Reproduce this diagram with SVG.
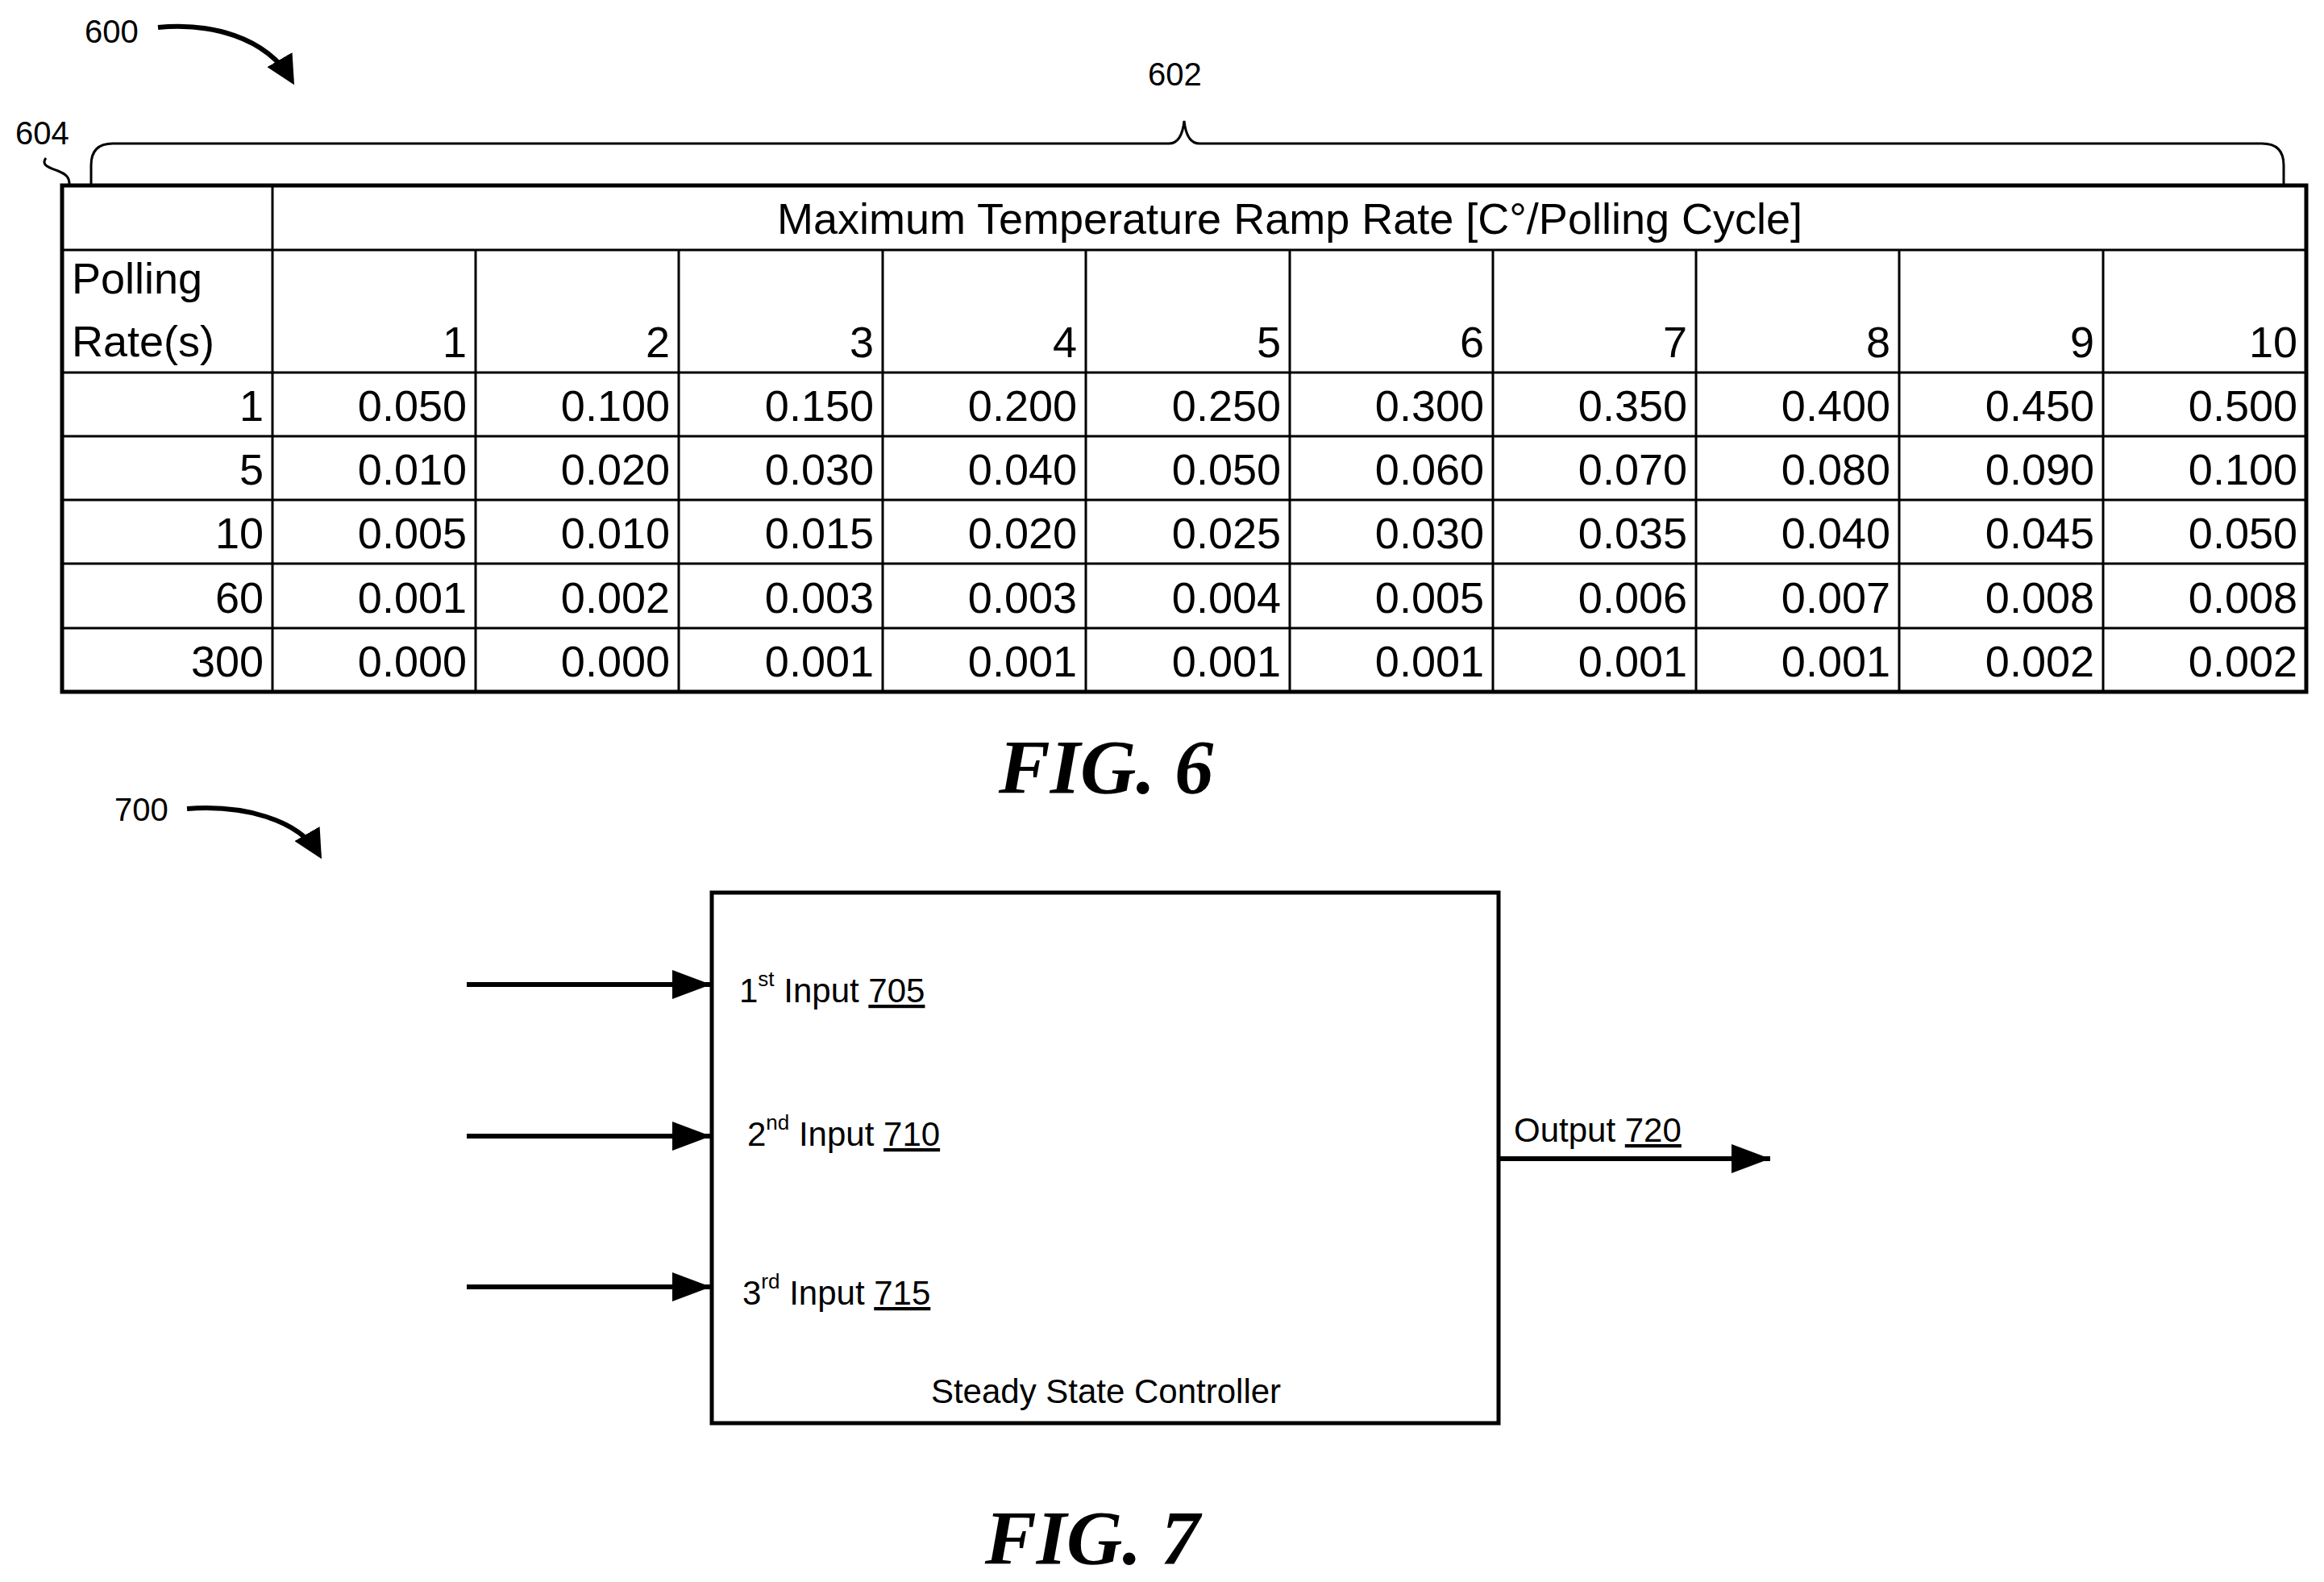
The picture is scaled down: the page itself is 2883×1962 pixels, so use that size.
<svg xmlns="http://www.w3.org/2000/svg" width="2883" height="1962" viewBox="0 0 2883 1962">
<style>
text{font-family:"Liberation Sans",Arial,sans-serif;fill:#000}
.d{font-size:54px;text-anchor:end}
.ref{font-size:40px}
.lbl{font-size:42px}
.fig{font-family:"Liberation Serif","Times New Roman",serif;font-size:96px;font-weight:bold;font-style:italic;text-anchor:middle}
.g{stroke:#000;stroke-width:3;fill:none}
.conn{stroke:#000;stroke-width:6;fill:none}
</style>
<defs>
<marker id="ah" markerWidth="8" markerHeight="6" refX="8" refY="3" orient="auto" markerUnits="strokeWidth"><path d="M0,0 L8,3 L0,6 Z" fill="#000"/></marker>
<marker id="ah2" markerWidth="6" markerHeight="6" refX="5" refY="3" orient="auto" markerUnits="strokeWidth"><path d="M0,0 L6,3 L0,6 Z" fill="#000"/></marker>
</defs>
<g id="fig6">
<text class="ref" x="105" y="53">600</text>
<path d="M196,34 C260,28 330,45 362,100" stroke="#000" stroke-width="6" fill="none" marker-end="url(#ah2)"/>
<text class="ref" x="1424" y="106">602</text>
<text class="ref" x="19" y="179">604</text>
<path d="M57,196 C50,205 62,208 72,212 C82,216 86,220 86,228" stroke="#000" stroke-width="3" fill="none"/>
<path d="M113,230 V205 Q113,178 140,178 H1450 Q1466,178 1469,150 Q1472,178 1488,178 H2806 Q2833,178 2833,205 V230" class="g"/>
<rect x="77" y="230" width="2784" height="628" fill="none" stroke="#000" stroke-width="5"/>
<g class="g">
<line x1="338" y1="230" x2="338" y2="858"/>
<line x1="77" y1="310" x2="2861" y2="310"/>
<line x1="77" y1="462" x2="2861" y2="462"/>
<line x1="77" y1="541" x2="2861" y2="541"/>
<line x1="77" y1="620" x2="2861" y2="620"/>
<line x1="77" y1="699" x2="2861" y2="699"/>
<line x1="77" y1="779" x2="2861" y2="779"/>
<line x1="590" y1="310" x2="590" y2="858"/>
<line x1="842" y1="310" x2="842" y2="858"/>
<line x1="1095" y1="310" x2="1095" y2="858"/>
<line x1="1347" y1="310" x2="1347" y2="858"/>
<line x1="1600" y1="310" x2="1600" y2="858"/>
<line x1="1852" y1="310" x2="1852" y2="858"/>
<line x1="2104" y1="310" x2="2104" y2="858"/>
<line x1="2356" y1="310" x2="2356" y2="858"/>
<line x1="2609" y1="310" x2="2609" y2="858"/>
</g>
<text x="1600" y="290" font-size="54" text-anchor="middle">Maximum Temperature Ramp Rate [C°/Polling Cycle]</text>
<text x="89" y="364" font-size="54">Polling</text>
<text x="89" y="442" font-size="54">Rate(s)</text>
<g class="d">
<text x="579" y="443">1</text><text x="831" y="443">2</text><text x="1084" y="443">3</text><text x="1336" y="443">4</text><text x="1589" y="443">5</text><text x="1841" y="443">6</text><text x="2093" y="443">7</text><text x="2345" y="443">8</text><text x="2598" y="443">9</text><text x="2850" y="443">10</text>
<text x="327" y="522">1</text><text x="579" y="522">0.050</text><text x="831" y="522">0.100</text><text x="1084" y="522">0.150</text><text x="1336" y="522">0.200</text><text x="1589" y="522">0.250</text><text x="1841" y="522">0.300</text><text x="2093" y="522">0.350</text><text x="2345" y="522">0.400</text><text x="2598" y="522">0.450</text><text x="2850" y="522">0.500</text>
<text x="327" y="601">5</text><text x="579" y="601">0.010</text><text x="831" y="601">0.020</text><text x="1084" y="601">0.030</text><text x="1336" y="601">0.040</text><text x="1589" y="601">0.050</text><text x="1841" y="601">0.060</text><text x="2093" y="601">0.070</text><text x="2345" y="601">0.080</text><text x="2598" y="601">0.090</text><text x="2850" y="601">0.100</text>
<text x="327" y="680">10</text><text x="579" y="680">0.005</text><text x="831" y="680">0.010</text><text x="1084" y="680">0.015</text><text x="1336" y="680">0.020</text><text x="1589" y="680">0.025</text><text x="1841" y="680">0.030</text><text x="2093" y="680">0.035</text><text x="2345" y="680">0.040</text><text x="2598" y="680">0.045</text><text x="2850" y="680">0.050</text>
<text x="327" y="760">60</text><text x="579" y="760">0.001</text><text x="831" y="760">0.002</text><text x="1084" y="760">0.003</text><text x="1336" y="760">0.003</text><text x="1589" y="760">0.004</text><text x="1841" y="760">0.005</text><text x="2093" y="760">0.006</text><text x="2345" y="760">0.007</text><text x="2598" y="760">0.008</text><text x="2850" y="760">0.008</text>
<text x="327" y="839">300</text><text x="579" y="839">0.000</text><text x="831" y="839">0.000</text><text x="1084" y="839">0.001</text><text x="1336" y="839">0.001</text><text x="1589" y="839">0.001</text><text x="1841" y="839">0.001</text><text x="2093" y="839">0.001</text><text x="2345" y="839">0.001</text><text x="2598" y="839">0.002</text><text x="2850" y="839">0.002</text>
</g>
<text class="fig" x="1372" y="984">FIG. 6</text>
</g>
<g id="fig7label">
<text class="ref" x="142" y="1018">700</text>
<path d="M232,1003 C300,998 370,1015 396,1060" stroke="#000" stroke-width="6" fill="none" marker-end="url(#ah2)"/>
</g>
<g id="controller">
<rect x="883" y="1107" width="976" height="658" fill="none" stroke="#000" stroke-width="5"/>
<text class="lbl" x="917" y="1243">1<tspan font-size="26" dy="-20">st</tspan><tspan dy="20"> Input </tspan><tspan text-decoration="underline">705</tspan></text>
<text class="lbl" x="927" y="1421">2<tspan font-size="26" dy="-20">nd</tspan><tspan dy="20"> Input </tspan><tspan text-decoration="underline">710</tspan></text>
<text class="lbl" x="921" y="1618">3<tspan font-size="26" dy="-20">rd</tspan><tspan dy="20"> Input </tspan><tspan text-decoration="underline">715</tspan></text>
<text class="lbl" x="1372" y="1740" text-anchor="middle">Steady State Controller</text>
<text class="lbl" x="1878" y="1416">Output <tspan text-decoration="underline">720</tspan></text>
</g>
<g id="connectors">
<line class="conn" x1="579" y1="1221" x2="882" y2="1221" marker-end="url(#ah)"/>
<line class="conn" x1="579" y1="1409" x2="882" y2="1409" marker-end="url(#ah)"/>
<line class="conn" x1="579" y1="1596" x2="882" y2="1596" marker-end="url(#ah)"/>
<line class="conn" x1="1859" y1="1437" x2="2196" y2="1437" marker-end="url(#ah)"/>
</g>
<text class="fig" x="1355" y="1940">FIG. 7</text>
</svg>
